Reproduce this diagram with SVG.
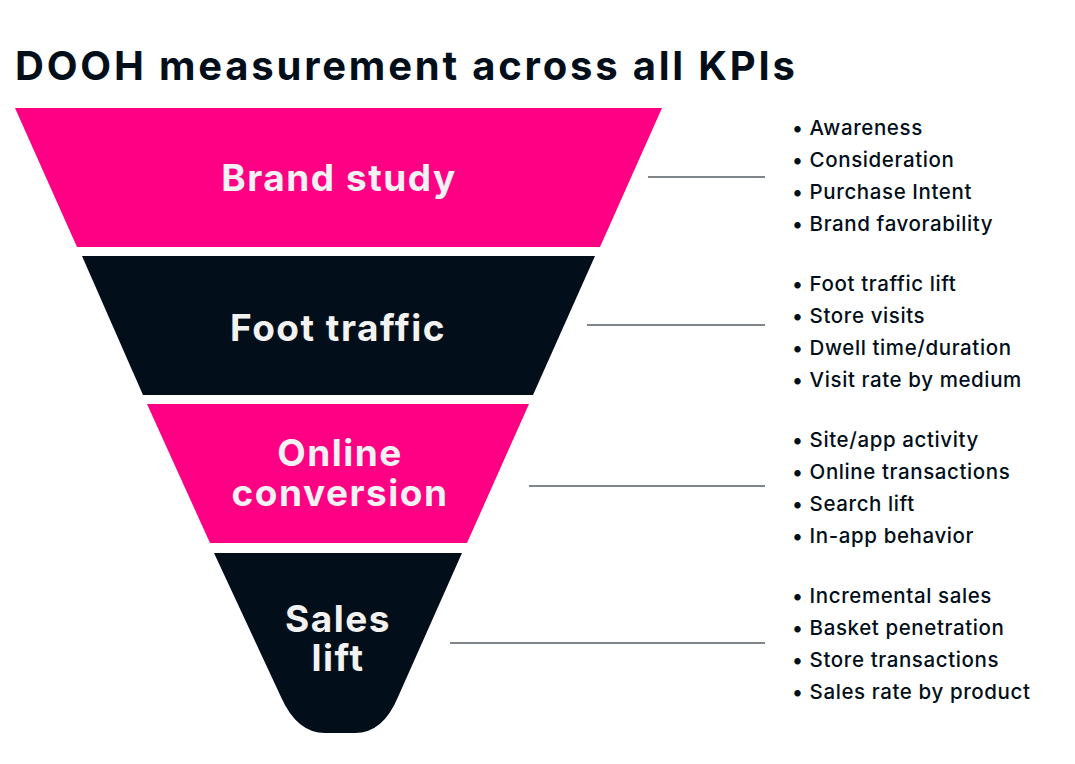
<svg xmlns="http://www.w3.org/2000/svg" width="1075" height="764" viewBox="0 0 1075 764">
<style>
.pink{fill:#FF0084}.dark{fill:#020F1A}
.lbl{font-family:Inter,"Noto Sans",sans-serif;font-weight:700;font-size:37px;fill:#F2F2F2;text-anchor:middle;letter-spacing:1.5px}
.item{font-family:Inter,"Noto Sans",sans-serif;font-weight:500;font-size:20.5px;fill:#020F1A;letter-spacing:0.6px}
.ln{stroke:#020F1A;stroke-width:1.2}
</style>
<rect width="1075" height="764" fill="#fff"/>
<text x="15" y="80" font-family="Inter,'Noto Sans',sans-serif" font-weight="700" font-size="40" fill="#020F1A" textLength="780" lengthAdjust="spacing">DOOH measurement across all KPIs</text>
<g id="brand-study"><polygon class="pink" points="15,108 662,108 600,247 77,247"/><text class="lbl" x="339" y="191">Brand study</text></g>
<g id="foot-traffic"><polygon class="dark" points="82,256 595,256 533,395 143,395"/><text class="lbl" x="338" y="341">Foot traffic</text></g>
<g id="online-conversion"><polygon class="pink" points="147,404 529,404 467,543 210,543"/><text class="lbl" x="340" y="466">Online</text><text class="lbl" x="340" y="506">conversion</text></g>
<g id="sales-lift"><path class="dark" d="M214,553 L462,553 L398,697 Q383,733 355,733 L325,733 Q297,733 281,697 Z"/><text class="lbl" x="338" y="632">Sales</text><text class="lbl" x="338" y="671">lift</text></g>
<g id="connectors">
<line class="ln" x1="648" y1="177" x2="765" y2="177"/>
<line class="ln" x1="587" y1="325" x2="765" y2="325"/>
<line class="ln" x1="529" y1="486" x2="765" y2="486"/>
<line class="ln" x1="450" y1="643" x2="765" y2="643"/>
</g>
<g id="lists" class="item">
<text x="792" y="135">•  Awareness</text>
<text x="792" y="167">•  Consideration</text>
<text x="792" y="199">•  Purchase Intent</text>
<text x="792" y="231">•  Brand favorability</text>
<text x="792" y="291">•  Foot traffic lift</text>
<text x="792" y="323">•  Store visits</text>
<text x="792" y="355">•  Dwell time/duration</text>
<text x="792" y="387">•  Visit rate by medium</text>
<text x="792" y="447">•  Site/app activity</text>
<text x="792" y="479">•  Online transactions</text>
<text x="792" y="511">•  Search lift</text>
<text x="792" y="543">•  In-app behavior</text>
<text x="792" y="603">•  Incremental sales</text>
<text x="792" y="635">•  Basket penetration</text>
<text x="792" y="667">•  Store transactions</text>
<text x="792" y="699">•  Sales rate by product</text>
</g>
</svg>
